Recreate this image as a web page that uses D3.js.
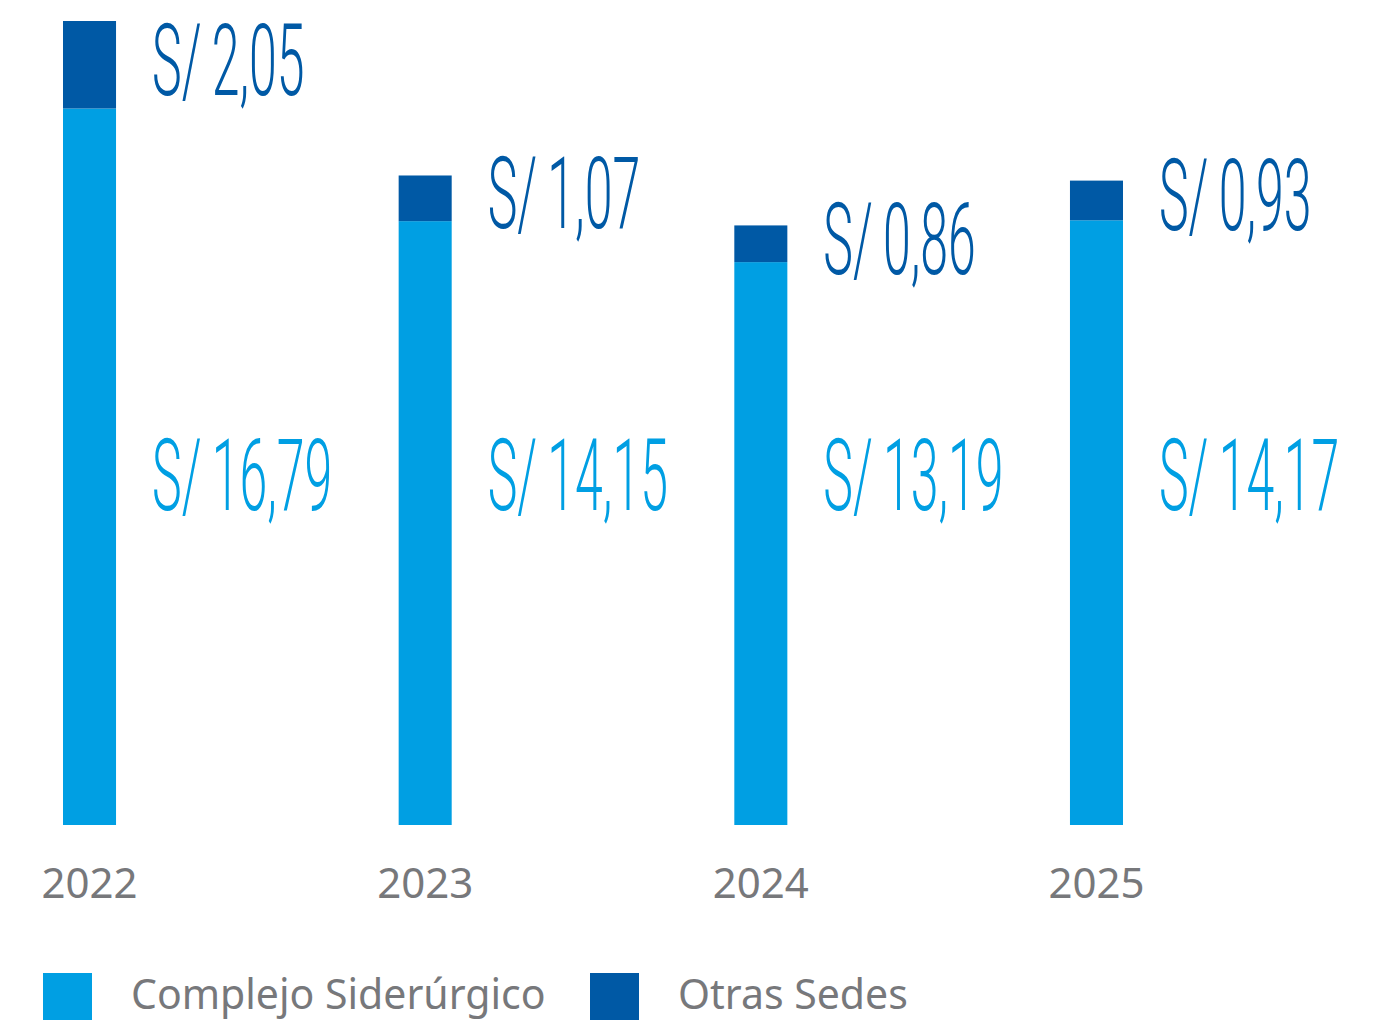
<html>
<head>
	<title>Gastos por sede</title>
	<meta charset="utf-8">
	<script src="https://d3js.org/d3.v7.min.js"></script>
	<style>
		body { margin: 0; background: #fff; }
	</style>
</head>
<body>
	<script type="text/javascript">
		var width = 1378
		var height = 1020

		// data
		var years = ["2022", "2023", "2024", "2025"]
		var complejo = [16.79, 14.15, 13.19, 14.17]
		var otras = [2.05, 1.07, 0.86, 0.93]
		var seriesNames = ["Complejo Siderúrgico", "Otras Sedes"]

		var colLight = "#009fe3"
		var colDark = "#0059a5"
		var colGray = "#77787b"

		var rows = years.map(function(y, i) {
			return {year: y, complejo: complejo[i], otras: otras[i]}
		})

		var svg = d3.select("body").append("svg")
			.attr("width", width)
			.attr("height", height)

		var x = d3.scaleBand()
			.domain(years)
			.range([63, 1123])
			.paddingInner(0.842)
			.paddingOuter(0)

		var y = d3.scaleLinear()
			.domain([0, d3.max(rows, d => d.complejo + d.otras)])
			.range([825, 21])

		var stack = d3.stack().keys(["complejo", "otras"])(rows)
		var colors = [colLight, colDark]

		svg.selectAll("g.layer")
			.data(stack)
			.enter()
			.append("g")
				.attr("class", "layer")
				.attr("fill", (d, i) => colors[i])
			.selectAll("rect")
			.data(d => d)
			.enter()
			.append("rect")
				.attr("x", d => x(d.data.year))
				.attr("y", d => y(d[1]))
				.attr("width", x.bandwidth())
				.attr("height", d => y(d[0]) - y(d[1]))

		function fmt(v) {
			return "S/\u2009" + v.toFixed(2).replace(".", ",")
		}

		var labelFont = "Roboto, sans-serif"
		var squeeze = 0.5

		// value labels for the light segment: all on one line
		svg.selectAll("text.lightLabel")
			.data(rows)
			.enter()
			.append("text")
				.attr("class", "lightLabel")
				.attr("transform", d => "translate(" + (x(d.year) + 89) + ",510) scale(" + squeeze + ",1)")
				.attr("font-family", labelFont)
				.attr("font-weight", 300)
				.attr("font-size", 100)
				.attr("fill", colLight)
				.text(d => fmt(d.complejo))

		// value labels for the dark segment, next to it
		svg.selectAll("text.darkLabel")
			.data(rows)
			.enter()
			.append("text")
				.attr("class", "darkLabel")
				.attr("transform", function(d) {
					var mid = (y(d.complejo) + y(d.complejo + d.otras)) / 2
					return "translate(" + (x(d.year) + 89) + "," + (mid + 30) + ") scale(" + squeeze + ",1)"
				})
				.attr("font-family", labelFont)
				.attr("font-weight", 300)
				.attr("font-size", 100)
				.attr("fill", colDark)
				.text(d => fmt(d.otras))

		// year axis
		var xAxis = svg.append("g")
			.attr("transform", "translate(0,825)")
			.call(d3.axisBottom(x).tickSize(0).tickPadding(0))
		xAxis.select(".domain").remove()
		xAxis.selectAll("text")
			.attr("y", 73)
			.attr("dy", null)
			.attr("font-family", "'Noto Sans', sans-serif")
			.attr("font-size", 42)
			.attr("fill", colGray)

		// legend
		var legendX = [43, 590]
		var legend = svg.selectAll("g.legend")
			.data(seriesNames)
			.enter()
			.append("g")
				.attr("class", "legend")
				.attr("transform", (d, i) => "translate(" + legendX[i] + ",973)")
		legend.append("rect")
			.attr("width", 49)
			.attr("height", 47)
			.attr("fill", (d, i) => colors[i])
		legend.append("text")
			.attr("x", 88)
			.attr("y", 36)
			.attr("font-family", "'Noto Sans', sans-serif")
			.attr("font-size", 41)
			.attr("fill", colGray)
			.text(d => d)
	</script>
</body>
</html>
